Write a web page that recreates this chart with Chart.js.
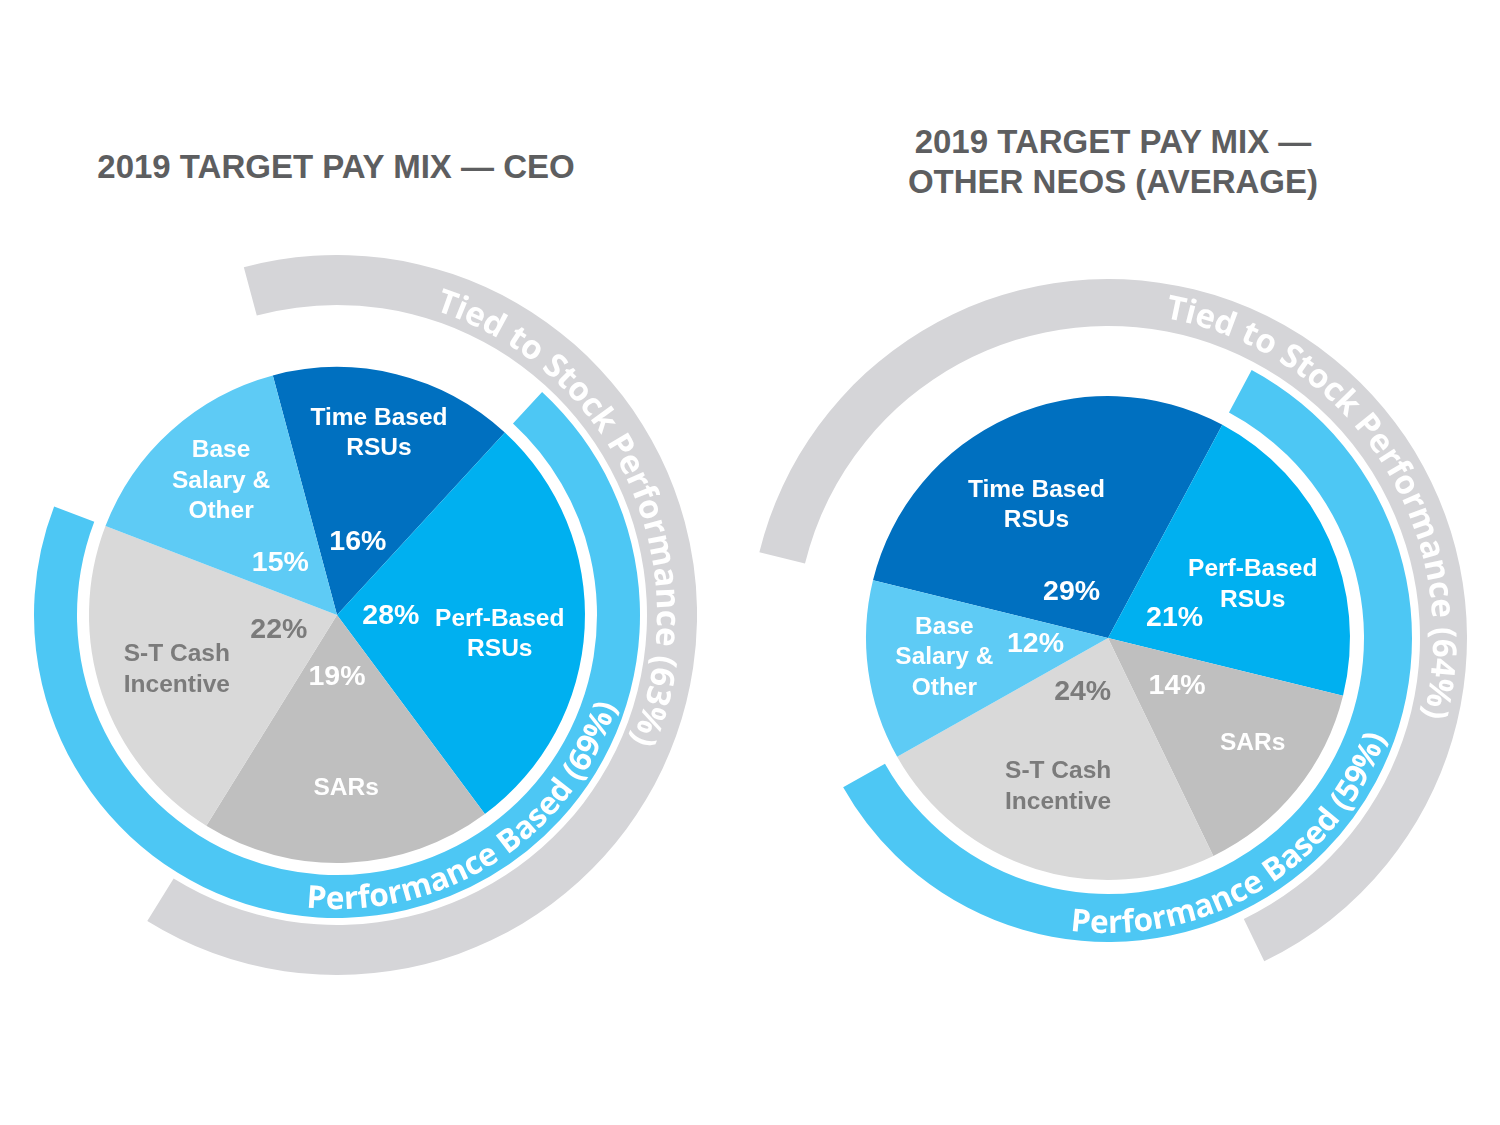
<!DOCTYPE html>
<html><head><meta charset="utf-8">
<script src="https://cdn.jsdelivr.net/npm/chart.js@4.4.1/dist/chart.umd.min.js"></script>
<style>
html,body{margin:0;padding:0;background:#fff;width:1500px;height:1125px;overflow:hidden;position:relative;}
.title{position:absolute;font-family:"Liberation Sans",Arial,sans-serif;font-weight:bold;font-size:33px;line-height:40px;color:#5d5e60;text-align:center;white-space:nowrap;}
.box{position:absolute;}
</style></head><body>
<div class="title" style="left:36px;top:147px;width:600px;">2019 TARGET PAY MIX — CEO</div>
<div class="title" style="left:813px;top:122px;width:600px;">2019 TARGET PAY MIX —<br>OTHER NEOS (AVERAGE)</div>
<div class="box" style="left:-23px;top:255px;width:720px;height:720px;"><canvas id="c1"></canvas></div>
<div class="box" style="left:749px;top:279px;width:718px;height:718px;"><canvas id="c2"></canvas></div>
<script>
// ---------- data ----------
const categories = [["Time Based","RSUs"],["Perf-Based","RSUs"],["SARs"],["S-T Cash","Incentive"],["Base","Salary &","Other"]];
const ceoValues = [16, 28, 19, 22, 15];
const neoValues = [29, 21, 14, 24, 12];
const tiedToStock = [true, true, true, false, false];
const performanceBased = [false, true, true, true, false];
const tiedLabel = "Tied to Stock Performance";
const perfLabel = "Performance Based";

// ---------- styles ----------
const sliceColors = ["#0070c0", "#00b0f0", "#bfbfbf", "#d9d9d9", "#5ecbf5"];
const labelColors = ["#ffffff", "#ffffff", "#ffffff", "#7b7b7b", "#ffffff"];
const GREY_RING = "#d5d5d8";
const BLUE_RING = "#4dc7f4";
const CLEAR = "rgba(0,0,0,0)";

const leftLayout = [
  {nameR:0.76, nameA:0.484, pctR:0.313, pctA:0.531},
  {nameR:0.66, nameA:0.53,  pctR:0.217, pctA:0.46},
  {nameR:0.69, nameA:0.49,  pctR:0.24,  pctA:0.535},
  {nameR:0.68, nameA:0.504, pctR:0.24,  pctA:0.578},
  {nameR:0.72, nameA:0.528, pctR:0.315, pctA:0.417}
];
const rightLayout = [
  {nameR:0.63,  nameA:0.462, pctR:0.25,  pctA:0.375},
  {nameR:0.64,  nameA:0.542, pctR:0.29,  pctA:0.574},
  {nameR:0.735, nameA:0.433, pctR:0.343, pctA:0.395},
  {nameR:0.64,  nameA:0.516, pctR:0.24,  pctA:0.598},
  {nameR:0.68,  nameA:0.54,  pctR:0.30,  pctA:0.613}
];

function ringRuns(values, member, color){
  const data = [], colors = [];
  values.forEach((v,i)=>{
    const c = member[i] ? color : CLEAR;
    if (colors.length && colors[colors.length-1] === c) data[data.length-1] += v;
    else { data.push(v); colors.push(c); }
  });
  return {data, colors};
}
function sumOf(values, member){ return values.reduce((s,v,i)=>s+(member[i]?v:0),0); }

function arcText(ctx, text, cx, cy, r, midDeg, font, color, outward){
  ctx.save();
  ctx.font = font; ctx.fillStyle = color; ctx.textAlign = 'center'; ctx.textBaseline = 'alphabetic';
  const chars = Array.from(text);
  const widths = chars.map(ch => ctx.measureText(ch).width);
  const total = widths.reduce((a,b)=>a+b,0);
  const mid = midDeg*Math.PI/180;
  let a = outward ? mid - total/(2*r) : mid + total/(2*r);
  chars.forEach((ch,k)=>{
    const w = widths[k];
    const ca = outward ? a + w/(2*r) : a - w/(2*r);
    const px = cx + r*Math.sin(ca), py = cy - r*Math.cos(ca);
    ctx.save(); ctx.translate(px,py); ctx.rotate(outward ? ca : ca - Math.PI); ctx.fillText(ch,0,0); ctx.restore();
    a = outward ? a + w/r : a - w/r;
  });
  ctx.restore();
}

function labelPlugin(values, layout, cfg){
  return {
    id: 'labels',
    afterDraw(chart){
      const ctx = chart.ctx;
      const pie = chart.getDatasetMeta(4);
      const NAME_FONT = 'bold 24.5px "Liberation Sans", Arial, sans-serif';
      const PCT_FONT = 'bold 28.5px "Liberation Sans", Arial, sans-serif';
      let cx = 0, cy = 0;
      pie.data.forEach((arc,i)=>{
        const p = arc.getProps(['x','y','startAngle','endAngle','outerRadius'], true);
        cx = p.x; cy = p.y;
        const L = layout[i];
        const span = p.endAngle - p.startAngle;
        ctx.save();
        ctx.fillStyle = labelColors[i]; ctx.textAlign = 'center'; ctx.textBaseline = 'alphabetic';
        const aN = p.startAngle + L.nameA*span;
        const nx = p.x + Math.cos(aN)*L.nameR*p.outerRadius;
        const ny = p.y + Math.sin(aN)*L.nameR*p.outerRadius;
        ctx.font = NAME_FONT;
        const lines = categories[i];
        lines.forEach((ln,j)=>{
          const ly = ny + (j - (lines.length-1)/2)*cfg.lh + 0.358*24.5;
          ctx.fillText(ln, nx, ly);
        });
        const aP = p.startAngle + L.pctA*span;
        const qx = p.x + Math.cos(aP)*L.pctR*p.outerRadius;
        const qy = p.y + Math.sin(aP)*L.pctR*p.outerRadius;
        ctx.font = PCT_FONT;
        ctx.fillText(values[i] + '%', qx, qy + 0.358*28.5);
        ctx.restore();
      });
      const greyCtrl = chart.getDatasetMeta(0).controller;
      const blueCtrl = chart.getDatasetMeta(2).controller;
      arcText(ctx, tiedLabel + ' (' + sumOf(values, tiedToStock) + '%)', cx, cy,
        greyCtrl.innerRadius + cfg.greyBase, cfg.greyMid, '700 33px "Open Sans", sans-serif', '#ffffff', true);
      arcText(ctx, perfLabel + ' (' + sumOf(values, performanceBased) + '%)', cx, cy,
        blueCtrl.outerRadius - cfg.blueBase, cfg.blueMid, '700 31.5px "Open Sans", sans-serif', '#ffffff', false);
    }
  };
}

function makeChart(id, values, rotation, geom, layout, cfg){
  const grey = ringRuns(values, tiedToStock, GREY_RING);
  const blue = ringRuns(values, performanceBased, BLUE_RING);
  return new Chart(document.getElementById(id), {
    type: 'pie',
    data: {
      labels: categories.map(c => c.join(' ')),
      datasets: [
        {data: grey.data, backgroundColor: grey.colors, weight: geom.grey, borderWidth: 0},
        {data: [1], backgroundColor: [CLEAR], weight: geom.gap1, borderWidth: 0},
        {data: blue.data, backgroundColor: blue.colors, weight: geom.blue, borderWidth: 0},
        {data: [1], backgroundColor: [CLEAR], weight: geom.gap2, borderWidth: 0},
        {data: values, backgroundColor: sliceColors, weight: geom.pie, borderWidth: 0}
      ]
    },
    options: {
      responsive: true, maintainAspectRatio: false, animation: false, events: [],
      rotation: rotation, layout: {padding: 0},
      plugins: {legend: {display: false}, tooltip: {enabled: false}, title: {display: false}}
    },
    plugins: [labelPlugin(values, layout, cfg)]
  });
}

makeChart('c1', ceoValues, -15, {grey:50, gap1:7, blue:43, gap2:12, pie:248}, leftLayout,
  {lh:30.5, greyBase:10, greyMid:65.5, blueBase:9, blueMid:147});
makeChart('c2', neoValues, -76.2, {grey:47, gap1:8, blue:48, gap2:14, pie:242}, rightLayout,
  {lh:30.5, greyBase:13, greyMid:57, blueBase:9, blueMid:148.5});
</script>
</body></html>
